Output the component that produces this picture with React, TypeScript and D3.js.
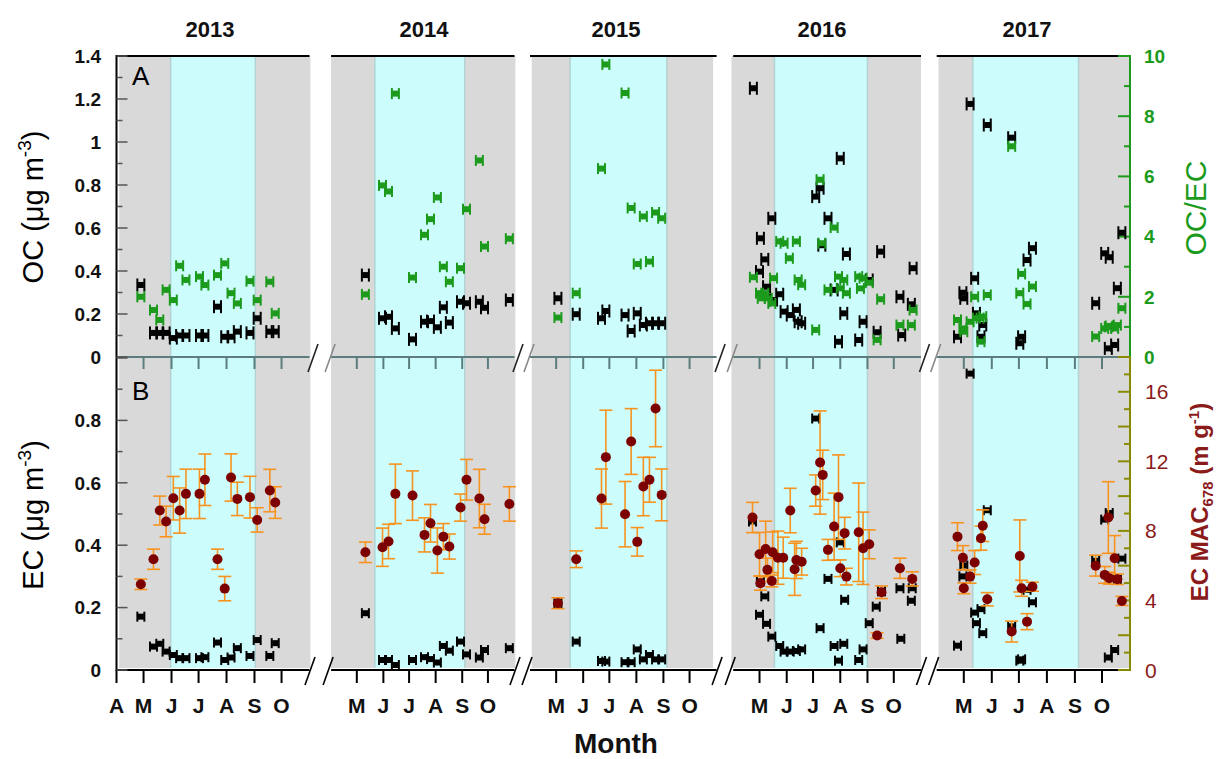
import React from 'react';
import * as d3 from 'd3';

// ---------- categories / tick labels ----------
const YEARS = [2013, 2014, 2015, 2016, 2017];
const YEAR_LABELS = ['2013', '2014', '2015', '2016', '2017'];
const MONTHS_FIRST = ['A', 'M', 'J', 'J', 'A', 'S', 'O']; // first segment starts in April
const MONTHS_OTHER = ['M', 'J', 'J', 'A', 'S', 'O'];
const OC_TICKS = [0, 0.2, 0.4, 0.6, 0.8, 1, 1.2, 1.4];
const EC_TICKS = [0, 0.2, 0.4, 0.6, 0.8];
const OCEC_TICKS = [0, 2, 4, 6, 8, 10];
const MAC_TICKS = [0, 4, 8, 12, 16];

// shaded periods (MM-DD) per year
const GREY_PERIODS: [string, string][] = [['04-04', '11-02'], ['04-01', '11-02'], ['04-03', '10-28'], ['03-30', '11-01'], ['04-03', '11-01']];
const CYAN_PERIODS: [string, string][] = [['05-31', '09-02'], ['05-22', '09-04'], ['05-17', '09-05'], ['05-18', '09-01'], ['05-11', '09-05']];

// ---------- series ----------
const OC_2013: [string, number][] = [['04-28', 0.335], ['05-12', 0.112], ['05-19', 0.112], ['05-26', 0.112], ['06-03', 0.088], ['06-10', 0.1], ['06-17', 0.1], ['07-02', 0.1], ['07-08', 0.1], ['07-22', 0.234], ['07-30', 0.094], ['08-06', 0.094], ['08-13', 0.118], ['08-27', 0.112], ['09-04', 0.18], ['09-18', 0.118], ['09-24', 0.118]];
const OCEC_2013: [string, number][] = [['04-28', 2.0], ['05-12', 1.56], ['05-19', 1.23], ['05-26', 2.23], ['06-03', 1.89], ['06-10', 3.03], ['06-17', 2.56], ['07-02', 2.67], ['07-08', 2.39], ['07-22', 2.72], ['07-30', 3.11], ['08-06', 2.12], ['08-13', 1.78], ['08-27', 2.52], ['09-04', 1.89], ['09-18', 2.5], ['09-24', 1.45]];
const EC_2013: [string, number][] = [['04-28', 0.171], ['05-12', 0.075], ['05-19', 0.084], ['05-26', 0.059], ['06-03', 0.048], ['06-10', 0.038], ['06-17', 0.038], ['07-02', 0.038], ['07-08', 0.041], ['07-22', 0.088], ['07-30', 0.032], ['08-06', 0.04], ['08-13', 0.07], ['08-27', 0.045], ['09-04', 0.096], ['09-18', 0.045], ['09-24', 0.086]];
const MAC_2013: [string, number, number][] = [['04-28', 4.93, 0.3], ['05-12', 6.37, 0.58], ['05-19', 9.17, 0.83], ['05-26', 8.54, 0.88], ['06-03', 9.88, 1.25], ['06-10', 9.17, 1.3], ['06-17', 10.13, 1.42], ['07-02', 10.13, 1.42], ['07-08', 10.94, 1.48], ['07-22', 6.37, 0.58], ['07-30', 4.68, 0.7], ['08-06', 11.07, 1.36], ['08-13', 9.84, 0.96], ['08-27', 9.94, 1.2], ['09-04', 8.63, 0.7], ['09-18', 10.32, 1.22], ['09-24', 9.63, 0.91]];

const OC_2014: [string, number][] = [['05-11', 0.381], ['05-31', 0.18], ['06-07', 0.187], ['06-15', 0.133], ['07-05', 0.082], ['07-19', 0.164], ['07-26', 0.167], ['08-03', 0.138], ['08-10', 0.231], ['08-17', 0.16], ['08-30', 0.257], ['09-06', 0.25], ['09-21', 0.257], ['09-27', 0.229], ['10-26', 0.265]];
const OCEC_2014: [string, number][] = [['05-11', 2.08], ['05-31', 5.7], ['06-07', 5.5], ['06-15', 8.75], ['07-05', 2.64], ['07-19', 4.06], ['07-26', 4.58], ['08-03', 5.3], ['08-10', 3.0], ['08-17', 2.5], ['08-30', 2.95], ['09-06', 4.91], ['09-21', 6.53], ['09-27', 3.67], ['10-26', 3.93]];
const EC_2014: [string, number][] = [['05-11', 0.182], ['05-31', 0.032], ['06-07', 0.032], ['06-15', 0.016], ['07-05', 0.032], ['07-19', 0.041], ['07-26', 0.035], ['08-03', 0.024], ['08-10', 0.077], ['08-17', 0.062], ['08-30', 0.091], ['09-06', 0.05], ['09-21', 0.04], ['09-27', 0.064], ['10-26', 0.07]];
const MAC_2014: [string, number, number][] = [['05-11', 6.77, 0.59], ['05-31', 7.06, 1.1], ['06-07', 7.39, 0.99], ['06-15', 10.13, 1.71], ['07-05', 10.03, 1.42], ['07-19', 7.77, 0.98], ['07-26', 8.44, 1.08], ['08-03', 6.87, 1.3], ['08-10', 7.67, 0.75], ['08-17', 7.1, 0.72], ['08-30', 9.34, 0.78], ['09-06', 10.94, 1.17], ['09-21', 9.86, 1.68], ['09-27', 8.67, 0.86], ['10-26', 9.55, 0.99]];

const OC_2015: [string, number][] = [['05-03', 0.273], ['05-24', 0.199], ['06-22', 0.18], ['06-27', 0.214], ['07-19', 0.195], ['07-26', 0.121], ['08-02', 0.203], ['08-09', 0.149], ['08-16', 0.157], ['08-23', 0.157], ['08-30', 0.157]];
const OCEC_2015: [string, number][] = [['05-03', 1.31], ['05-24', 2.12], ['06-22', 6.26], ['06-27', 9.72], ['07-19', 8.77], ['07-26', 4.95], ['08-02', 3.09], ['08-09', 4.67], ['08-16', 3.17], ['08-23', 4.8], ['08-30', 4.61]];
const EC_2015: [string, number][] = [['05-03', 0.214], ['05-24', 0.091], ['06-22', 0.029], ['06-27', 0.027], ['07-19', 0.025], ['07-26', 0.025], ['08-02', 0.066], ['08-09', 0.034], ['08-16', 0.048], ['08-23', 0.034], ['08-30', 0.034]];
const MAC_2015: [string, number, number][] = [['05-03', 3.84, 0.31], ['05-24', 6.37, 0.48], ['06-22', 9.86, 1.7], ['06-27', 12.24, 2.7], ['07-19', 8.96, 1.88], ['07-26', 13.14, 1.89], ['08-02', 7.37, 0.82], ['08-09', 10.55, 1.68], ['08-16', 10.94, 1.29], ['08-23', 15.04, 2.2], ['08-30', 10.07, 1.49]];

const OC_2016: [string, number][] = [['04-24', 1.25], ['05-01', 0.397], ['05-02', 0.552], ['05-07', 0.454], ['05-09', 0.327], ['05-15', 0.645], ['05-17', 0.265], ['05-24', 0.292], ['05-29', 0.211], ['06-05', 0.195], ['06-12', 0.219], ['06-14', 0.164], ['06-18', 0.157], ['07-04', 0.746], ['07-09', 0.785], ['07-11', 0.52], ['07-18', 0.645], ['07-25', 0.312], ['07-30', 0.071], ['08-01', 0.924], ['08-05', 0.203], ['08-08', 0.479], ['08-22', 0.079], ['08-27', 0.164], ['09-03', 0.358], ['09-12', 0.115], ['09-16', 0.49], ['10-08', 0.28], ['10-10', 0.102], ['10-21', 0.245], ['10-23', 0.413]];
const OCEC_2016: [string, number][] = [['04-24', 2.65], ['05-01', 2.12], ['05-03', 1.95], ['05-07', 2.12], ['05-11', 1.95], ['05-15', 1.78], ['05-17', 2.62], ['05-24', 3.84], ['05-29', 3.78], ['06-04', 3.28], ['06-12', 3.84], ['06-14', 2.56], ['06-18', 2.4], ['07-04', 0.9], ['07-09', 5.89], ['07-11', 3.78], ['07-18', 2.23], ['07-25', 4.3], ['07-30', 2.67], ['08-01', 2.28], ['08-05', 2.56], ['08-08', 2.12], ['08-22', 2.67], ['08-24', 2.28], ['08-27', 2.62], ['09-03', 2.47], ['09-12', 0.57], ['09-16', 1.92], ['10-08', 1.06], ['10-21', 1.06], ['10-23', 1.56]];
const EC_2016: [string, number][] = [['04-23', 0.476], ['05-01', 0.177], ['05-02', 0.284], ['05-07', 0.236], ['05-09', 0.148], ['05-15', 0.107], ['05-24', 0.077], ['05-29', 0.059], ['06-05', 0.059], ['06-12', 0.061], ['06-18', 0.066], ['07-04', 0.806], ['07-09', 0.134], ['07-18', 0.292], ['07-25', 0.077], ['07-30', 0.03], ['08-01', 0.409], ['08-05', 0.084], ['08-06', 0.225], ['08-22', 0.032], ['08-27', 0.066], ['09-03', 0.15], ['09-11', 0.203], ['09-17', 0.252], ['10-08', 0.262], ['10-09', 0.1], ['10-21', 0.222], ['10-22', 0.262]];
const MAC_2016: [string, number, number][] = [['04-23', 8.77, 0.87], ['05-01', 6.66, 1.25], ['05-02', 4.99, 0.4], ['05-08', 6.96, 1.6], ['05-10', 5.76, 0.67], ['05-15', 5.12, 0.34], ['05-16', 6.77, 1.17], ['05-22', 6.46, 1.53], ['05-28', 6.46, 1.18], ['06-05', 9.17, 1.28], ['06-10', 5.79, 1.5], ['06-12', 6.33, 1.07], ['06-18', 6.23, 0.77], ['07-04', 10.32, 0.9], ['07-09', 11.93, 2.97], ['07-12', 11.22, 1.42], ['07-18', 6.91, 0.6], ['07-25', 8.25, 1.92], ['07-30', 9.94, 2.43], ['08-01', 5.85, 0.48], ['08-06', 7.87, 0.91], ['08-08', 5.37, 0.48], ['08-22', 7.92, 2.83], ['08-27', 7.0, 2.08], ['09-03', 7.23, 0.83], ['09-12', 1.98, 0.16], ['09-17', 4.47, 0.36], ['10-08', 5.85, 0.58], ['10-22', 5.24, 0.41]];

const OC_2017: [string, number][] = [['04-24', 0.094], ['04-30', 0.299], ['05-01', 0.273], ['05-08', 1.177], ['05-13', 0.366], ['05-15', 0.203], ['05-20', 0.094], ['05-22', 0.149], ['05-27', 1.079], ['06-23', 1.02], ['07-02', 0.064], ['07-04', 0.094], ['07-10', 0.451], ['07-16', 0.506], ['09-24', 0.25], ['10-04', 0.482], ['10-08', 0.04], ['10-09', 0.464], ['10-15', 0.056], ['10-18', 0.32], ['10-23', 0.578]];
const OCEC_2017: [string, number][] = [['04-24', 1.23], ['04-30', 0.95], ['05-01', 0.84], ['05-08', 1.17], ['05-13', 2.0], ['05-15', 1.29], ['05-19', 1.29], ['05-20', 0.51], ['05-22', 1.34], ['05-27', 2.06], ['06-23', 7.0], ['07-02', 2.12], ['07-04', 2.76], ['07-10', 1.76], ['07-16', 2.34], ['09-24', 0.68], ['10-04', 0.95], ['10-08', 1.0], ['10-09', 1.03], ['10-15', 0.95], ['10-18', 1.06], ['10-23', 1.62]];
const EC_2017: [string, number][] = [['04-24', 0.078], ['04-30', 0.3], ['05-01', 0.335], ['05-08', 0.95], ['05-13', 0.184], ['05-15', 0.15], ['05-20', 0.195], ['05-22', 0.118], ['05-27', 0.512], ['06-23', 0.14], ['07-02', 0.03], ['07-04', 0.034], ['07-10', 0.257], ['07-16', 0.217], ['09-24', 0.35], ['10-04', 0.482], ['10-08', 0.04], ['10-09', 0.503], ['10-15', 0.064], ['10-18', 0.289], ['10-23', 0.357]];
const MAC_2017: [string, number, number][] = [['04-24', 7.67, 0.8], ['04-30', 6.46, 0.69], ['05-01', 4.7, 0.31], ['05-08', 5.37, 0.38], ['05-13', 6.18, 0.69], ['05-20', 7.58, 0.69], ['05-22', 8.3, 0.91], ['05-27', 4.07, 0.38], ['06-23', 2.21, 0.6], ['07-02', 6.56, 2.07], ['07-04', 4.7, 0.46], ['07-10', 2.78, 0.46], ['07-16', 4.79, 0.26], ['09-24', 6.0, 0.6], ['10-04', 5.47, 0.48], ['10-08', 8.77, 2.06], ['10-09', 5.28, 0.34], ['10-15', 6.43, 1.3], ['10-18', 5.22, 0.3], ['10-23', 3.97, 0.26]];

const OC_ALL = [OC_2013, OC_2014, OC_2015, OC_2016, OC_2017];
const OCEC_ALL = [OCEC_2013, OCEC_2014, OCEC_2015, OCEC_2016, OCEC_2017];
const EC_ALL = [EC_2013, EC_2014, EC_2015, EC_2016, EC_2017];
const MAC_ALL = [MAC_2013, MAC_2014, MAC_2015, MAC_2016, MAC_2017];

// ---------- layout ----------
const SEG_X: [number, number][] = [[116.5, 309.5], [331.1, 514.5], [530, 716.6], [733.2, 921], [936.7, 1130]];
const TITLE_X = [210, 424, 616, 822, 1027];
const TOP = 56;
const MID = 357;
const BOT = 670;
const LEFT = 116.5;
const RIGHT = 1130;
const FONT = "'Liberation Sans', Arial, sans-serif";
const GREEN = '#1b9a1b';
const DARKRED = '#7d0000';
const ORANGE = '#f7931e';
const MACRED = '#8b1a1a';
const OLIVE = '#8a8a00';
const MIDAXIS = '#5b7d7d';

function dt(year: number, s: string) {
  const [m, d] = s.split('-').map(Number);
  return new Date(Date.UTC(year, m - 1, d));
}

function HMark({ x, y, color, hh }: { x: number; y: number; color: string; hh: number }) {
  return (
    <g>
      <line x1={x - 3.5} x2={x - 3.5} y1={y - hh} y2={y + hh} stroke={color} strokeWidth={2} />
      <line x1={x + 3.5} x2={x + 3.5} y1={y - hh} y2={y + hh} stroke={color} strokeWidth={2} />
      <rect x={x - 3} y={y - 3} width={6} height={6} fill={color} />
    </g>
  );
}

export default function App() {
  const xs = YEARS.map((yr, i) =>
    d3.scaleUtc().domain([new Date(Date.UTC(yr, 3, 1)), new Date(Date.UTC(yr, 10, 1))]).range(SEG_X[i])
  );
  const yOC = d3.scaleLinear().domain([0, 1.4]).range([MID, TOP]);
  const yOCEC = d3.scaleLinear().domain([0, 10]).range([MID, TOP]);
  const yEC = d3.scaleLinear().domain([0, 1]).range([BOT, MID + 1]);
  const yMAC = d3.scaleLinear().domain([0, 18]).range([BOT, MID]);

  const ocMinor = d3.range(0, 1.41, 0.1);
  const ecMinor = d3.range(0, 1.01, 0.1);
  const ocecMinor = d3.range(0, 10.01, 1);
  const macMinor = d3.range(0, 18.01, 1);

  const breakSlash = (cx: number, cy: number, color: string, key: string) => (
    <line key={key} x1={cx - 5} y1={cy + 14} x2={cx + 5} y2={cy - 14} stroke={color} strokeWidth={1.6} />
  );

  return (
    <svg width={1217} height={759} style={{ position: 'absolute', left: 0, top: 0, background: '#fff' }} fontFamily={FONT}>
      {/* shaded periods */}
      {YEARS.map((yr, i) => {
        const x = xs[i];
        const g0 = x(dt(yr, GREY_PERIODS[i][0]));
        const g1 = x(dt(yr, GREY_PERIODS[i][1]));
        const c0 = x(dt(yr, CYAN_PERIODS[i][0]));
        const c1 = x(dt(yr, CYAN_PERIODS[i][1]));
        return (
          <g key={'bg' + yr}>
            <rect x={g0} y={TOP} width={g1 - g0} height={BOT - 2 - TOP} fill="#d9d9d9" />
            <rect x={c0} y={TOP + 1} width={c1 - c0} height={BOT - 3 - TOP} fill="#ccfcfc" />
            <line x1={c0} x2={c0} y1={TOP + 1} y2={BOT - 2} stroke="#b4d2d2" strokeWidth={1.5} />
            <line x1={c1} x2={c1} y1={TOP + 1} y2={BOT - 2} stroke="#b4d2d2" strokeWidth={1.5} />
          </g>
        );
      })}

      {/* segment axes */}
      {YEARS.map((yr, i) => {
        const x = xs[i];
        const [s, e] = SEG_X[i];
        const bottomMonths = i === 0 ? MONTHS_FIRST : MONTHS_OTHER;
        const firstMonth = i === 0 ? 3 : 4;
        return (
          <g key={'ax' + yr}>
            <line x1={s} x2={e} y1={TOP} y2={TOP} stroke="#000" strokeWidth={2} />
            <line x1={s} x2={e} y1={MID} y2={MID} stroke={MIDAXIS} strokeWidth={2} />
            <line x1={s} x2={e} y1={BOT} y2={BOT} stroke="#000" strokeWidth={2} />
            {MONTHS_OTHER.map((_, k) => {
              const px = x(new Date(Date.UTC(yr, 4 + k, 1)));
              return <line key={'mt' + k} x1={px} x2={px} y1={MID} y2={MID + 12} stroke={MIDAXIS} strokeWidth={2} />;
            })}
            {bottomMonths.map((lab, k) => {
              const px = x(new Date(Date.UTC(yr, firstMonth + k, 1)));
              return (
                <g key={'bt' + k}>
                  <line x1={px} x2={px} y1={BOT} y2={BOT + 13} stroke="#000" strokeWidth={2} />
                  <text x={px} y={713} textAnchor="middle" fontSize={21} fontWeight="bold" fill="#111">
                    {lab}
                  </text>
                </g>
              );
            })}
            <text x={TITLE_X[i]} y={37} textAnchor="middle" fontSize={22} fontWeight="bold" fill="#111">
              {YEAR_LABELS[i]}
            </text>
          </g>
        );
      })}

      {/* axis breaks */}
      {YEARS.slice(0, -1).map((yr, i) => {
        const e = SEG_X[i][1];
        const s = SEG_X[i + 1][0];
        return (
          <g key={'br' + yr}>
            {breakSlash(e + 3.5, MID + 1, '#222', 'a')}
            {breakSlash(s - 1, MID + 1, '#888', 'b')}
            {breakSlash(e + 0.5, BOT + 1, '#000', 'c')}
            {breakSlash(s - 3, BOT + 1, '#000', 'd')}
          </g>
        );
      })}

      {/* left axis */}
      <line x1={LEFT} x2={LEFT} y1={TOP - 1} y2={BOT + 1} stroke="#000" strokeWidth={2} />
      {ocMinor.map((v, k) => (
        <line key={'loc' + k} x1={LEFT} x2={LEFT + (k % 2 === 0 ? 11 : 6)} y1={yOC(v)} y2={yOC(v)} stroke="#555" strokeWidth={1.5} />
      ))}
      {ecMinor.map((v, k) => (
        <line key={'lec' + k} x1={LEFT} x2={LEFT + (k % 2 === 0 ? 11 : 6)} y1={yEC(v)} y2={yEC(v)} stroke="#555" strokeWidth={1.5} />
      ))}
      {OC_TICKS.map((v) => (
        <text key={'toc' + v} x={101} y={yOC(v)} dy="0.36em" textAnchor="end" fontSize={19} fontWeight="bold" fill="#111">
          {String(v)}
        </text>
      ))}
      {EC_TICKS.filter((v) => v > 0).concat([0]).map((v) => (
        <text key={'tec' + v} x={101} y={yEC(v)} dy="0.36em" textAnchor="end" fontSize={19} fontWeight="bold" fill="#111">
          {String(v)}
        </text>
      ))}

      {/* right axis */}
      <line x1={RIGHT} x2={RIGHT} y1={TOP - 1} y2={MID} stroke={GREEN} strokeWidth={2} />
      <line x1={RIGHT} x2={RIGHT} y1={MID} y2={BOT + 1} stroke={OLIVE} strokeWidth={2} />
      {ocecMinor.map((v, k) => (
        <line key={'roc' + k} x1={RIGHT} x2={RIGHT - (k % 2 === 0 ? 12 : 6)} y1={yOCEC(v)} y2={yOCEC(v)} stroke={GREEN} strokeWidth={2} />
      ))}
      {macMinor.map((v, k) => (
        <line key={'rmac' + k} x1={RIGHT} x2={RIGHT - (k % 2 === 0 ? 12 : 6)} y1={yMAC(v)} y2={yMAC(v)} stroke={OLIVE} strokeWidth={2} />
      ))}
      {OCEC_TICKS.map((v) => (
        <text key={'tocec' + v} x={1144} y={yOCEC(v)} dy="0.36em" fontSize={19} fontWeight="bold" fill={GREEN}>
          {String(v)}
        </text>
      ))}
      {MAC_TICKS.map((v) => (
        <text key={'tmac' + v} x={1145} y={yMAC(v)} dy="0.36em" fontSize={21} fill={MACRED}>
          {String(v)}
        </text>
      ))}

      {/* data: panel A */}
      {YEARS.map((yr, i) => (
        <g key={'oc' + yr}>
          {OC_ALL[i].map(([d, v], k) => (
            <HMark key={k} x={xs[i](dt(yr, d))} y={yOC(v)} color="#000" hh={6.5} />
          ))}
        </g>
      ))}
      {YEARS.map((yr, i) => (
        <g key={'ocec' + yr}>
          {OCEC_ALL[i].map(([d, v], k) => (
            <HMark key={k} x={xs[i](dt(yr, d))} y={yOCEC(v)} color={GREEN} hh={5.5} />
          ))}
        </g>
      ))}

      {/* data: panel B */}
      {YEARS.map((yr, i) => (
        <g key={'ec' + yr}>
          {EC_ALL[i].map(([d, v], k) => (
            <HMark key={k} x={xs[i](dt(yr, d))} y={yEC(v)} color="#000" hh={5} />
          ))}
        </g>
      ))}
      {YEARS.map((yr, i) => (
        <g key={'mac' + yr}>
          {MAC_ALL[i].map(([d, v, err], k) => {
            const px = xs[i](dt(yr, d));
            const y0 = yMAC(v - err);
            const y1 = yMAC(v + err);
            return (
              <g key={k}>
                <line x1={px} x2={px} y1={y0} y2={y1} stroke={ORANGE} strokeWidth={1.6} />
                <line x1={px - 6.5} x2={px + 6.5} y1={y0} y2={y0} stroke={ORANGE} strokeWidth={1.6} />
                <line x1={px - 6.5} x2={px + 6.5} y1={y1} y2={y1} stroke={ORANGE} strokeWidth={1.6} />
              </g>
            );
          })}
          {MAC_ALL[i].map(([d, v], k) => (
            <circle key={'c' + k} cx={xs[i](dt(yr, d))} cy={yMAC(v)} r={5} fill={DARKRED} />
          ))}
        </g>
      ))}

      {/* panel letters */}
      <text x={132} y={85} fontSize={26} fill="#000">A</text>
      <text x={132} y={400} fontSize={26} fill="#000">B</text>

      {/* axis titles */}
      <text transform="translate(43,207) rotate(-90)" textAnchor="middle" fontSize={29} fill="#000">
        OC (μg m<tspan fontSize={19} dy={-12}>-3</tspan>
        <tspan dy={12}>)</tspan>
      </text>
      <text transform="translate(43,515) rotate(-90)" textAnchor="middle" fontSize={29} fill="#000">
        EC (μg m<tspan fontSize={19} dy={-12}>-3</tspan>
        <tspan dy={12}>)</tspan>
      </text>
      <text transform="translate(1206,208) rotate(-90)" textAnchor="middle" fontSize={30} fill={GREEN}>
        OC/EC
      </text>
      <text transform="translate(1208,502) rotate(-90)" textAnchor="middle" fontSize={24} fontWeight="bold" fill={MACRED}>
        EC MAC<tspan fontSize={15} dy={5}>678</tspan>
        <tspan dy={-5}> (m g</tspan>
        <tspan fontSize={15} dy={-9}>-1</tspan>
        <tspan dy={9}>)</tspan>
      </text>
      <text x={616} y={753} textAnchor="middle" fontSize={28} fontWeight="bold" fill="#111">
        Month
      </text>
    </svg>
  );
}
